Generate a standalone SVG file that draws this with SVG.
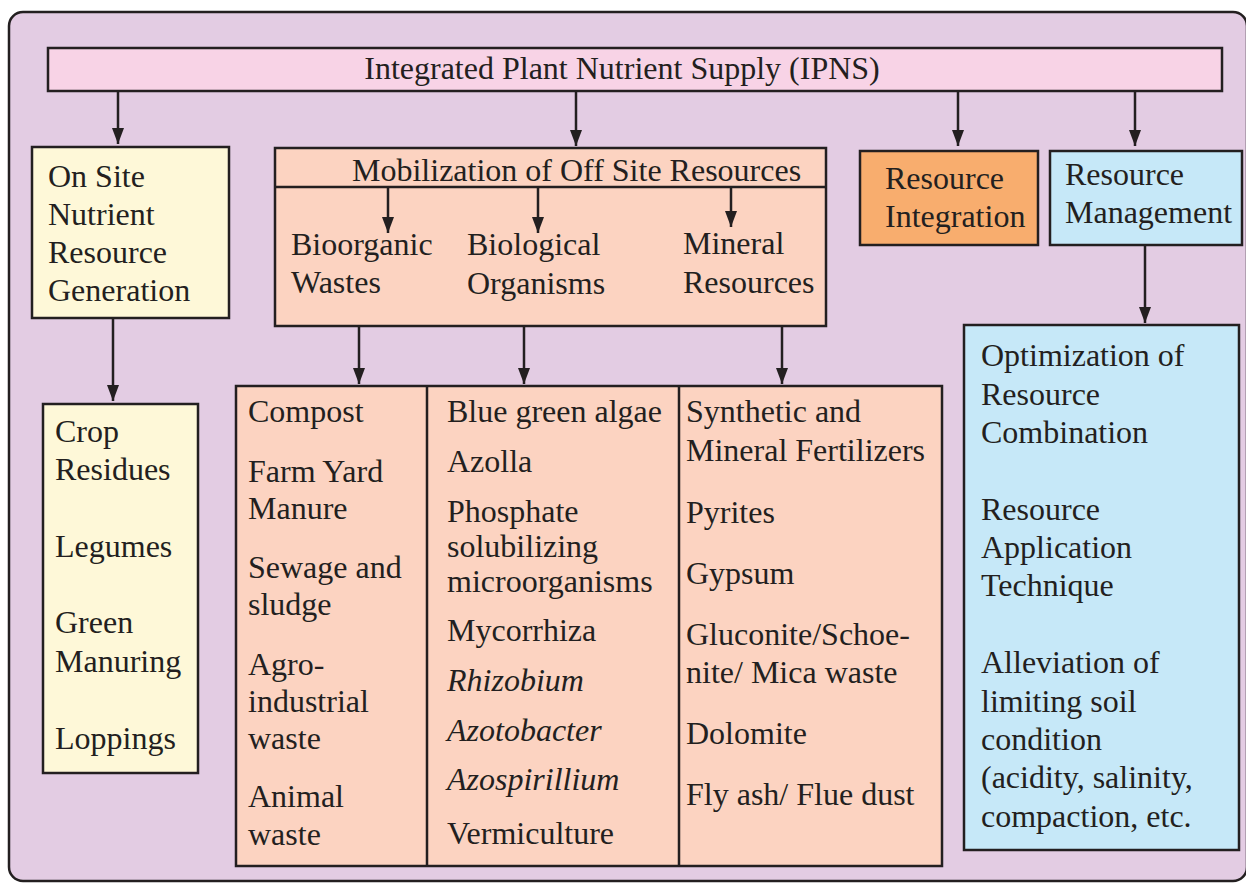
<svg xmlns="http://www.w3.org/2000/svg" width="1246" height="883" viewBox="0 0 1246 883">
<style>
.box{stroke:#231F20;stroke-width:2.5}
.t{font-family:'Liberation Serif','DejaVu Serif','Noto Serif',serif;font-size:32px;fill:#231F20}
.i{font-style:italic}
.c{stroke:#231F20;stroke-width:2.5;fill:none;marker-end:url(#ah)}
</style>
<defs>
<marker id="ah" markerUnits="userSpaceOnUse" markerWidth="16" markerHeight="12" refX="16" refY="6" orient="auto">
<path d="M0,0 L16,6 L0,12 z" fill="#231F20"/>
</marker>
</defs>
<rect x="9" y="12" width="1238" height="869" rx="14" fill="#E3CCE3" stroke="#231F20" stroke-width="2.5"/>

<g id="ipns">
<rect class="box" x="48" y="48" width="1174" height="43" fill="#F8D3E6"/>
<text class="t" x="622" y="79" text-anchor="middle" font-family="Liberation Serif, serif">Integrated Plant Nutrient Supply (IPNS)</text>
</g>

<g id="onsite">
<rect class="box" x="32" y="147" width="197" height="171" fill="#FEF8D8"/>
<text class="t" x="48" y="187">On Site</text>
<text class="t" x="48" y="225">Nutrient</text>
<text class="t" x="48" y="263">Resource</text>
<text class="t" x="48" y="301">Generation</text>
</g>

<g id="onsite-list">
<rect class="box" x="43" y="404" width="155" height="369" fill="#FEF8D8"/>
<text class="t" x="55" y="442">Crop</text>
<text class="t" x="55" y="480">Residues</text>
<text class="t" x="55" y="557">Legumes</text>
<text class="t" x="55" y="633">Green</text>
<text class="t" x="55" y="672">Manuring</text>
<text class="t" x="55" y="749">Loppings</text>
</g>

<g id="mobilization">
<rect class="box" x="275" y="148" width="551" height="178" fill="#FCD3C1"/>
<line class="box" x1="275" y1="187" x2="826" y2="187"/>
<text class="t" x="352" y="181">Mobilization of Off Site Resources</text>
<text class="t" x="291" y="255">Bioorganic</text>
<text class="t" x="291" y="293">Wastes</text>
<text class="t" x="467" y="255">Biological</text>
<text class="t" x="467" y="294">Organisms</text>
<text class="t" x="683" y="254">Mineral</text>
<text class="t" x="683" y="293">Resources</text>
</g>

<g id="lists">
<rect class="box" x="236" y="386" width="706" height="480" fill="#FCD3C1"/>
<line class="box" x1="427" y1="386" x2="427" y2="866"/>
<line class="box" x1="679" y1="386" x2="679" y2="866"/>
</g>

<g id="bioorganic-list">
<text class="t" x="248" y="422">Compost</text>
<text class="t" x="248" y="482">Farm Yard</text>
<text class="t" x="248" y="519">Manure</text>
<text class="t" x="248" y="578">Sewage and</text>
<text class="t" x="248" y="615">sludge</text>
<text class="t" x="248" y="675">Agro-</text>
<text class="t" x="248" y="712">industrial</text>
<text class="t" x="248" y="749">waste</text>
<text class="t" x="248" y="807">Animal</text>
<text class="t" x="248" y="845">waste</text>
</g>

<g id="biological-list">
<text class="t" x="447" y="422">Blue green algae</text>
<text class="t" x="447" y="472">Azolla</text>
<text class="t" x="447" y="522">Phosphate</text>
<text class="t" x="447" y="557">solubilizing</text>
<text class="t" x="447" y="592">microorganisms</text>
<text class="t" x="447" y="641">Mycorrhiza</text>
<text class="t i" x="447" y="691">Rhizobium</text>
<text class="t i" x="447" y="741">Azotobacter</text>
<text class="t i" x="447" y="790">Azospirillium</text>
<text class="t" x="447" y="844">Vermiculture</text>
</g>

<g id="mineral-list">
<text class="t" x="686" y="422">Synthetic and</text>
<text class="t" x="686" y="461">Mineral Fertilizers</text>
<text class="t" x="686" y="523">Pyrites</text>
<text class="t" x="686" y="584">Gypsum</text>
<text class="t" x="686" y="645">Gluconite/Schoe-</text>
<text class="t" x="686" y="683">nite/ Mica waste</text>
<text class="t" x="686" y="744">Dolomite</text>
<text class="t" x="686" y="805">Fly ash/ Flue dust</text>
</g>

<g id="integration">
<rect class="box" x="860" y="151" width="178" height="94" fill="#F8AD6E"/>
<text class="t" x="885" y="189">Resource</text>
<text class="t" x="885" y="227">Integration</text>
</g>

<g id="management">
<rect class="box" x="1050" y="151" width="192" height="94" fill="#C6E8F8"/>
<text class="t" x="1065" y="185">Resource</text>
<text class="t" x="1065" y="223">Management</text>
</g>

<g id="management-list">
<rect class="box" x="964" y="325" width="275" height="525" fill="#C6E8F8"/>
<text class="t" x="981" y="366">Optimization of</text>
<text class="t" x="981" y="405">Resource</text>
<text class="t" x="981" y="443">Combination</text>
<text class="t" x="981" y="520">Resource</text>
<text class="t" x="981" y="558">Application</text>
<text class="t" x="981" y="596">Technique</text>
<text class="t" x="981" y="673">Alleviation of</text>
<text class="t" x="981" y="712">limiting soil</text>
<text class="t" x="981" y="750">condition</text>
<text class="t" x="981" y="788">(acidity, salinity,</text>
<text class="t" x="981" y="827">compaction, etc.</text>
</g>

<g id="connectors">
<line class="c" x1="118" y1="92" x2="118" y2="144"/>
<line class="c" x1="576" y1="92" x2="576" y2="146"/>
<line class="c" x1="958" y1="92" x2="958" y2="146"/>
<line class="c" x1="1135" y1="92" x2="1135" y2="146"/>
<line class="c" x1="113" y1="318" x2="113" y2="401"/>
<line class="c" x1="388" y1="188" x2="388" y2="233"/>
<line class="c" x1="538" y1="188" x2="538" y2="233"/>
<line class="c" x1="731" y1="188" x2="731" y2="227"/>
<line class="c" x1="359" y1="326" x2="359" y2="384"/>
<line class="c" x1="524" y1="326" x2="524" y2="384"/>
<line class="c" x1="782" y1="326" x2="782" y2="384"/>
<line class="c" x1="1145" y1="245" x2="1145" y2="323"/>
</g>
</svg>
